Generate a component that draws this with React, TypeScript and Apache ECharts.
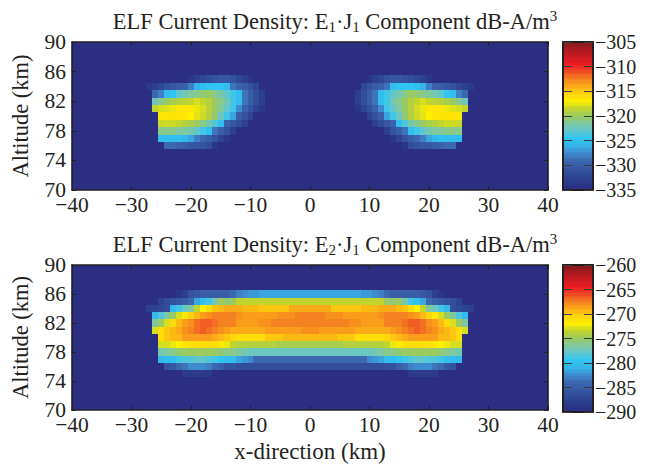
import React, { useEffect, useRef } from "react";
import * as echarts from "echarts";

const FONT = "Liberation Serif";
const INK = "#231f20";

// Upper panel: dB values, x = -27..-8 (left lobe; the picture is mirror symmetric)
const topAlts = [85, 84, 83, 82, 81, 80, 79, 78, 77, 76];
const topX0 = -27;
const top85 = [-335, -335, -335, -335, -335, -335, -335, -334, -333, -332, -331.5, -331, -330.5, -330.5, -331, -332, -333, -334, -335, -335];
const top84 = [-333.5, -333, -332, -331, -330.5, -330, -329.5, -328, -326, -325, -324.5, -324.5, -324.5, -325, -328.5, -329.5, -330, -331, -332, -335];
const top83 = [-335, -329, -328, -325, -324.5, -323, -322, -321.5, -321, -320.5, -320, -321, -322, -323, -324, -325, -328.5, -330, -331.5, -333];
const top82 = [-335, -322.5, -321, -320, -319.5, -319, -318.8, -318.5, -318, -318.5, -319, -320, -321, -322, -324, -325, -328.5, -330, -331.5, -333];
const top81 = [-335, -318.5, -318, -317.8, -317.5, -316.5, -316.4, -316.5, -317.5, -318, -319, -320, -321.5, -323, -324, -327.5, -329.5, -331, -332.5, -334];
const top80 = [-335, -335, -316.5, -316.4, -316.4, -316.4, -316.5, -317, -317.7, -318.2, -319, -320.5, -322.5, -324, -326.5, -330, -331, -332.5, -335, -335];
const top79 = [-335, -335, -318.3, -318.2, -318.2, -318.5, -319, -319.5, -320, -321, -322, -323.5, -325, -329.5, -330.5, -331.5, -333, -335, -335, -335];
const top78 = [-335, -335, -321, -321, -321, -321.5, -321.5, -322, -323, -324, -325, -328.5, -330, -331, -333, -335, -335, -335, -335, -335];
const top77 = [-335, -335, -325, -325, -325, -325, -325.5, -326.5, -328, -329, -330, -331, -332.5, -334, -335, -335, -335, -335, -335, -335];
const top76 = [-335, -335, -335, -329, -329, -329.5, -330, -330.5, -330.5, -331, -331.5, -334, -335, -335, -335, -335, -335, -335, -335, -335];
const topRows = [top85, top84, top83, top82, top81, top80, top79, top78, top77, top76];

// Lower panel: dB values, x = -27..0
const lowAlts = [86, 85, 84, 83, 82, 81, 80, 79, 78, 77, 76, 75];
const lowX0 = -27;
const low86 = [-290, -290, -290, -290, -290, -289, -288, -286, -285.5, -285, -285, -285, -285, -285, -284, -283, -282.5, -282, -282, -281.5, -281.5, -281.5, -281.5, -281.5, -281.5, -281.5, -281.5, -281.5];
const low85 = [-290, -290, -287.5, -286.5, -286, -285.5, -285, -284, -281.5, -280, -279, -277, -275, -275.5, -275, -273.5, -273.5, -273.5, -273.5, -273.5, -273.5, -273.5, -273.5, -273.5, -273.5, -273.5, -273.5, -273.5];
const low84 = [-288, -287.5, -287, -286.5, -280.5, -279, -277.5, -276.5, -273.5, -272, -271, -270, -269.5, -269, -269, -269, -269.5, -269.5, -269.5, -270, -270, -270, -270, -270, -269, -269, -269, -269];
const low83 = [-290, -280.5, -278.5, -276.5, -275, -273, -271.5, -270.5, -269.5, -268.5, -268, -267.5, -267.5, -267.5, -267.5, -268, -268.5, -268.5, -268.5, -268.5, -268.5, -268.5, -268, -268, -268, -267.5, -267.5, -267.5];
const low82 = [-290, -276.5, -275, -273, -270.8, -269.5, -268.5, -268, -267, -266.5, -266.5, -267, -267.5, -267.5, -267.5, -268.5, -268.5, -268.5, -268.5, -268, -268, -267.5, -267.5, -267.5, -267.5, -267.5, -267.5, -267.5];
const low81 = [-290, -273, -271, -270, -269.5, -269, -268, -267.5, -267, -266.5, -267, -267.5, -268, -268.5, -269, -269, -269, -269, -269, -269, -268.5, -268.5, -268.5, -268.5, -268.5, -268.5, -268, -268];
const low80 = [-290, -290, -271, -270, -269.5, -269.5, -268.5, -268.5, -268.5, -268.5, -268.5, -269, -269.5, -270, -270.5, -271, -271, -271, -271, -271, -270, -270, -270, -269.5, -269.5, -269.5, -269.5, -269.5];
const low79 = [-290, -290, -273, -273, -272.5, -272, -271.5, -271.2, -271, -271, -271, -271, -271.5, -272.5, -273.5, -274, -274, -274, -274, -274, -274, -274, -274.5, -274.5, -274.5, -274.5, -274.5, -274.5];
const low78 = [-290, -290, -277, -276.5, -276, -275.5, -275, -275, -275, -275, -275, -275, -275.5, -276, -276, -276.5, -277, -277.5, -277.5, -277.5, -277.5, -277.5, -277.5, -277.5, -277.5, -277.5, -277.5, -277.5];
const low77 = [-290, -290, -280.5, -280, -280, -279, -278.5, -278.5, -278, -278, -278.5, -279, -279.5, -280, -280, -281.5, -282, -282.5, -284, -284, -284, -284, -284, -284, -284, -284, -284, -284];
const low76 = [-290, -290, -290, -286, -285.5, -284, -283.5, -282.5, -282.5, -282.5, -283, -284, -285, -286, -286, -286.5, -286.5, -286.5, -286.5, -286.5, -286.5, -286.5, -286.5, -286.5, -286.5, -286.5, -286.5, -286.5];
const low75 = [-290, -290, -290, -290, -290, -290, -288.5, -288.5, -288.5, -288.5, -288.5, -290, -290, -290, -290, -290, -290, -290, -290, -290, -290, -290, -290, -290, -290, -290, -290, -290];
const lowRows = [low86, low85, low84, low83, low82, low81, low80, low79, low78, low77, low76, low75];

const palette = [
  "#2b2e83", "#2c3a8c", "#2f4896", "#3757a3", "#3c68b0", "#3f8bcf", "#36b3e8",
  "#30c5f2", "#60c7cf", "#80c8a0", "#9bca60", "#c2d52f", "#fff000", "#fed50c",
  "#fbab18", "#f58220", "#ef4a25", "#ea1c24", "#cc1a22", "#a81a20", "#7d1a1c",
];

const minusLabel = (v: number) => String(v).replace("-", "\u2212");

function buildCells(rows: number[][], alts: number[], x0: number, floor: number) {
  const cells: number[][] = [];
  const lookup = new Map<string, number>();
  rows.forEach((row, r) =>
    row.forEach((v, c) => {
      const x = x0 + c;
      lookup.set(`${x},${alts[r]}`, v);
      lookup.set(`${-x},${alts[r]}`, v);
    })
  );
  for (let a = 70; a <= 90; a++) {
    for (let x = -40; x <= 40; x++) {
      cells.push([x, a, lookup.get(`${x},${a}`) ?? floor]);
    }
  }
  return cells;
}

function renderCell(params: any, api: any) {
  const x = api.value(0);
  const a = api.value(1);
  const p0 = api.coord([x - 0.5, a + 0.5]);
  const p1 = api.coord([x + 0.5, a - 0.5]);
  const X0 = Math.round(p0[0]);
  const Y0 = Math.round(p0[1]);
  return {
    type: "rect",
    shape: { x: X0, y: Y0, width: Math.round(p1[0]) - X0, height: Math.round(p1[1]) - Y0 },
    style: { fill: api.visual("color") },
    silent: true,
  };
}

function renderBar(params: any, api: any) {
  const v = api.value(1);
  const p0 = api.coord([0, v + 0.25]);
  const p1 = api.coord([1, v - 0.25]);
  const Y0 = Math.round(p0[1]);
  return {
    type: "rect",
    shape: { x: p0[0], y: Y0, width: p1[0] - p0[0], height: Math.round(p1[1]) - Y0 },
    style: { fill: api.visual("color") },
    silent: true,
  };
}

const titleText =
  (n: number) => `{n|ELF Current Density: E}{sub|${n}}{n|\u00b7J}{sub|1}{n| Component dB-A/m}{sup|3}`;

const titleStyle = {
  fontFamily: FONT,
  fontWeight: "normal" as const,
  rich: {
    n: { fontFamily: FONT, fontSize: 22.5, fontWeight: "normal" as const, color: INK, lineHeight: 26 },
    sub: { fontFamily: FONT, fontSize: 15, fontWeight: "normal" as const, color: INK, lineHeight: 26, verticalAlign: "bottom" as const, padding: [9, 0, 0, 0] },
    sup: { fontFamily: FONT, fontSize: 15, fontWeight: "normal" as const, color: INK, lineHeight: 26, verticalAlign: "top" as const, padding: [0, 0, 9, 0] },
  },
};

const axLine = { show: true, onZero: false, lineStyle: { color: INK, width: 1.6 } };

function mainAxes(gridIndex: number, showXName: boolean) {
  const base = { gridIndex, type: "value" as const, z: 10, splitLine: { show: false } };
  const xb = { ...base, min: -40, max: 40, interval: 10 };
  const yb = { ...base, min: 70, max: 90, interval: 4 };
  const tick = { show: true, inside: true, length: 4, lineStyle: { color: INK, width: 1 } };
  return {
    x: [
      {
        ...xb,
        position: "bottom",
        axisLine: axLine,
        axisTick: tick,
        axisLabel: { fontFamily: FONT, fontSize: 21.5, lineHeight: 15, color: INK, margin: 7, formatter: minusLabel, hideOverlap: false },
        name: showXName ? "x-direction (km)" : "",
        nameLocation: "middle",
        nameGap: 30,
        nameTextStyle: { fontFamily: FONT, fontSize: 23, color: INK },
      },
      { ...xb, position: "top", axisLine: axLine, axisTick: tick, axisLabel: { show: false } },
    ],
    y: [
      {
        ...yb,
        position: "left",
        axisLine: axLine,
        axisTick: tick,
        axisLabel: { fontFamily: FONT, fontSize: 21.5, lineHeight: 15, color: INK, margin: 6, padding: [0, 0, 3, 0] },
        name: "Altitude (km)",
        nameLocation: "middle",
        nameGap: 40,
        nameRotate: 90,
        nameTextStyle: { fontFamily: FONT, fontSize: 22.5, color: INK },
      },
      { ...yb, position: "right", axisLine: axLine, axisTick: tick, axisLabel: { show: false } },
    ],
  };
}

function barAxes(gridIndex: number, min: number, max: number) {
  const base = { gridIndex, type: "value" as const, z: 10, splitLine: { show: false } };
  const yb = { ...base, min, max, interval: 5 };
  const tick = { show: true, inside: true, length: 9, lineStyle: { color: "#3a3a38", width: 1 } };
  const frame = { show: true, onZero: false, lineStyle: { color: INK, width: 2 } };
  return {
    x: [
      { ...base, min: 0, max: 1, position: "bottom", axisLine: frame, axisTick: { show: false }, axisLabel: { show: false } },
      { ...base, min: 0, max: 1, position: "top", axisLine: frame, axisTick: { show: false }, axisLabel: { show: false } },
    ],
    y: [
      { ...yb, position: "left", axisLine: frame, axisTick: tick, axisLabel: { show: false } },
      {
        ...yb,
        position: "right",
        axisLine: frame,
        axisTick: tick,
        axisLabel: { show: true, inside: false, fontFamily: FONT, fontSize: 20, lineHeight: 15, color: INK, margin: 2, formatter: minusLabel },
      },
    ],
  };
}

export default function App() {
  const ref = useRef<HTMLDivElement>(null);
  useEffect(() => {
    const chart = echarts.init(ref.current!, undefined, { renderer: "svg" });
    const grids = [
      { left: 72, top: 42, width: 476, height: 148 },
      { left: 563, top: 42, width: 30, height: 148 },
      { left: 72, top: 265, width: 476, height: 147 },
      { left: 563, top: 265, width: 30, height: 147 },
    ];
    const a0 = mainAxes(0, false);
    const b0 = barAxes(1, -335, -305);
    const a1 = mainAxes(2, true);
    const b1 = barAxes(3, -290, -260);
    const xAxis = [...a0.x, ...b0.x, ...a1.x, ...b1.x];
    const yAxis = [...a0.y, ...b0.y, ...a1.y, ...b1.y];

    const levels = (min: number, max: number) => {
      const out: number[][] = [];
      for (let v = min; v <= max; v += 0.5) out.push([0, v, v]);
      return out;
    };

    const custom = (xi: number, yi: number, data: number[][], renderItem: any) => ({
      type: "custom" as const,
      coordinateSystem: "cartesian2d" as const,
      xAxisIndex: xi,
      yAxisIndex: yi,
      data,
      renderItem,
      clip: true,
      silent: true,
      progressive: 0,
    });

    chart.setOption({
      animation: false,
      backgroundColor: "#ffffff",
      title: [
        { text: titleText(1), left: 335, top: 8, textAlign: "center", textStyle: titleStyle, padding: 0 },
        { text: titleText(2), left: 335, top: 231, textAlign: "center", textStyle: titleStyle, padding: 0 },
      ],
      grid: grids,
      xAxis,
      yAxis,
      visualMap: [
        { show: false, type: "continuous", seriesIndex: [0, 1], dimension: 2, min: -335, max: -305, inRange: { color: palette } },
        { show: false, type: "continuous", seriesIndex: [2, 3], dimension: 2, min: -290, max: -260, inRange: { color: palette } },
      ],
      series: [
        custom(0, 0, buildCells(topRows, topAlts, topX0, -335), renderCell),
        custom(2, 2, levels(-335, -305), renderBar),
        custom(4, 4, buildCells(lowRows, lowAlts, lowX0, -290), renderCell),
        custom(6, 6, levels(-290, -260), renderBar),
      ],
    });
    return () => chart.dispose();
  }, []);
  return <div ref={ref} style={{ position: "absolute", left: 0, top: 0, width: 652, height: 464 }} />;
}
